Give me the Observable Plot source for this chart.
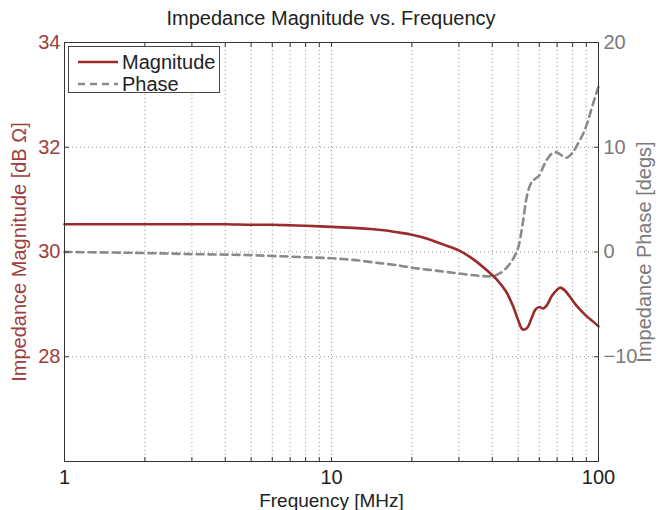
<!DOCTYPE html>
<html><head><meta charset="utf-8">
<script src="https://cdn.jsdelivr.net/npm/d3@7"></script>
<script src="https://cdn.jsdelivr.net/npm/@observablehq/plot@0.6"></script>
<style>
body{margin:0;background:#fff;font-family:"Liberation Sans",Arial,sans-serif;}
#wrap{position:relative;width:660px;height:510px;overflow:hidden;}
#title{position:absolute;left:0;width:662px;top:6px;text-align:center;font-size:20px;color:#222;line-height:24px;}
#legend{position:absolute;left:68px;top:46px;width:150px;height:45px;border:1px solid #444;background:#fff;font-size:20px;color:#222;}
.row{position:absolute;left:8px;height:22px;display:flex;align-items:center;}
.row svg{margin-right:3px;}
</style></head><body>
<div id="wrap"><div id="chart"></div><div id="title">Impedance Magnitude vs. Frequency</div><div id="legend"></div></div>
<script>
// Magnitude series (MHz, dB Ω)
const freqMag = [1,1.5,2,3,4,5,6,7,8,10,12,14,16,18,20,23,26,30,34,38,42,45,48,50,52,54,56,58,60,62,64,67,70,72,75,78,82,86,90,95,100];
const magnitude = [30.53,30.53,30.53,30.53,30.53,30.52,30.52,30.51,30.5,30.48,30.46,30.44,30.41,30.37,30.33,30.25,30.15,30.03,29.86,29.66,29.45,29.25,28.95,28.7,28.52,28.55,28.72,28.9,28.95,28.92,28.98,29.17,29.28,29.32,29.26,29.15,29.0,28.88,28.78,28.68,28.58];
// Phase series (MHz, degrees)
const freqPhase = [1,1.5,2,3,4,5,6,8,10,12,15,18,20,25,30,35,40,43,46,48,50,52,54,56,58,60,62,64,67,70,73,76,80,84,88,91,95,100];
const phase = [0,-0.05,-0.1,-0.2,-0.25,-0.3,-0.38,-0.5,-0.6,-0.75,-1.05,-1.3,-1.5,-1.8,-2.05,-2.25,-2.3,-2.0,-1.3,-0.6,0.4,2.7,5.4,6.6,7.0,7.3,8.1,8.8,9.4,9.5,9.2,9.0,9.5,10.4,11.4,12.4,14.0,15.8];
// Axes
const xDomain = [1,100];
const xTickLabels = [1,10,100];
const xGridValues = [2,3,4,5,6,7,8,9,10,20,30,40,50,60,70,80,90];
const magDomain = [26,34];
const magTicks = [28,30,32,34];
const magGrid = [28,30,32];
const phaseDomain = [-20,20];
const phaseTicks = [-10,0,10,20];

const magColor = "#9b2b2b";
const magText = "#9e4040";
const phaseColor = "#8a8a8a";
const phaseText = "#7a7a7a";

const k = (magDomain[1]-magDomain[0])/(phaseDomain[1]-phaseDomain[0]);
const toMag = p => magDomain[0] + (p - phaseDomain[0]) * k;
const toPhase = m => phaseDomain[0] + (m - magDomain[0]) / k;
const fmt = v => { const r = Math.round(v); return r < 0 ? "\u2212" + Math.abs(r) : String(r); };

const magData = freqMag.map((f,i) => ({f, v: magnitude[i]}));
const phaseData = freqPhase.map((f,i) => ({f, v: toMag(phase[i])}));

const chart = Plot.plot({
  width: 660, height: 510,
  marginTop: 42, marginBottom: 49, marginLeft: 64, marginRight: 62,
  style: {fontFamily: "'Liberation Sans', Arial, sans-serif", fontSize: "20px", background: "white", overflow: "visible"},
  x: {type: "log", domain: xDomain},
  y: {domain: magDomain},
  marks: [
    Plot.gridX(xGridValues, {stroke: "#888", strokeOpacity: 0.9, strokeDasharray: "1,3"}),
    Plot.gridY(magGrid, {stroke: "#888", strokeOpacity: 0.9, strokeDasharray: "1,3"}),
    Plot.line(phaseData, {x: "f", y: "v", stroke: phaseColor, strokeWidth: 2.6, strokeDasharray: "7,5", curve: "catmull-rom"}),
    Plot.line(magData, {x: "f", y: "v", stroke: magColor, strokeWidth: 2.6, curve: "catmull-rom"}),
    Plot.frame({stroke: "#333", strokeWidth: 1}),
    Plot.axisX(xGridValues, {anchor: "bottom", tickSize: -4, tickFormat: () => "", label: null, stroke: "#333"}),
    Plot.axisX(xGridValues, {anchor: "top", tickSize: -4, tickFormat: () => "", label: null, stroke: "#333"}),
    Plot.axisX(xTickLabels, {anchor: "bottom", tickSize: 0, tickPadding: 8, tickFormat: d => String(d), label: null, fill: "#222"}),
    Plot.axisY(magTicks, {anchor: "left", tickSize: -5, tickPadding: 9, tickFormat: d => String(d), label: null, fill: magText, stroke: "#333"}),
    Plot.axisY(phaseTicks.map(toMag), {anchor: "right", tickSize: -5, tickPadding: 10, tickFormat: d => fmt(toPhase(d)), label: null, fill: phaseText, stroke: "#333"}),
    Plot.text(["Impedance Magnitude [dB \u03A9]"], {frameAnchor: "left", rotate: -90, dx: -45, fill: magText, fontSize: 20, textAnchor: "middle", lineAnchor: "middle"}),
    Plot.text(["Impedance Phase [degs]"], {frameAnchor: "right", rotate: -90, dx: 46, fill: phaseText, fontSize: 20, textAnchor: "middle", lineAnchor: "middle"}),
    Plot.text(["Frequency [MHz]"], {frameAnchor: "bottom", dy: 39, fill: "#222", fontSize: 19, textAnchor: "middle", lineAnchor: "middle"})
  ]
});
document.getElementById("chart").appendChild(chart);

const legendItems = [
  {label: "Magnitude", color: magColor, dash: null},
  {label: "Phase", color: phaseColor, dash: "7,5"}
];
const lg = document.getElementById("legend");
legendItems.forEach((it, i) => {
  const row = document.createElement("div");
  row.className = "row";
  row.style.top = (4 + i * 22) + "px";
  row.innerHTML = `<svg width="42" height="10"><line x1="1" x2="41" y1="5" y2="5" stroke="${it.color}" stroke-width="2.6" ${it.dash ? `stroke-dasharray="${it.dash}"` : ""}/></svg><span>${it.label}</span>`;
  lg.appendChild(row);
});
</script>
</body></html>
